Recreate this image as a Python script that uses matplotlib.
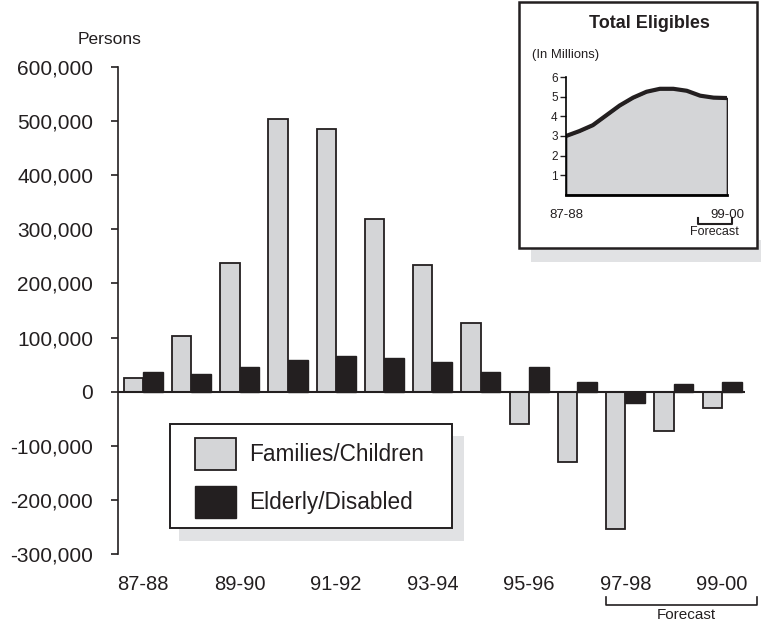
import numpy as np
import matplotlib.pyplot as plt
from matplotlib.patches import Rectangle, Patch
from matplotlib.lines import Line2D
from matplotlib.ticker import FuncFormatter

plt.rcParams['font.family'] = ['Liberation Sans', 'DejaVu Sans']

years = ['87-88', '88-89', '89-90', '90-91', '91-92', '92-93', '93-94',
         '94-95', '95-96', '96-97', '97-98', '98-99', '99-00']
families = [25000, 102000, 237000, 504000, 486000, 320000, 235000,
            127000, -59000, -130000, -253000, -73000, -31000]
elderly = [37000, 32000, 45000, 59000, 65000, 62000, 54000,
           36000, 45000, 17000, -21000, 15000, 17000]
total_eligibles = [3.0, 3.25, 3.55, 4.05, 4.55, 4.95, 5.25,
                   5.4, 5.4, 5.3, 5.05, 4.95, 4.93]
yticks = [-300000, -200000, -100000, 0, 100000, 200000, 300000, 400000, 500000, 600000]

W, H = 761, 625
GREY = '#d4d5d7'
BLACK = '#231f20'
SHADOW = '#e1e2e4'


def fx(x):
    return x / W


def fy(y):
    return 1 - y / H


fig = plt.figure(figsize=(W / 100, H / 100), dpi=100)

# main chart
ax = fig.add_axes([fx(118), fy(554), (745 - 118) / W, (554 - 67) / H])
x = np.arange(len(years))
ax.bar(x, families, width=-0.4, align='edge', color=GREY, edgecolor=BLACK, linewidth=1.3)
ax.bar(x, elderly, width=0.41, align='edge', color=BLACK, edgecolor=BLACK, linewidth=1.0)
ax.axhline(0, color=BLACK, lw=1.5)
ax.set_xlim(-0.52, 12.48)
ax.set_ylim(-300000, 600000)
ax.set_yticks(yticks)
ax.yaxis.set_major_formatter(FuncFormatter(lambda v, p: f'{v:,.0f}'))
ax.set_xticks(x[::2])
ax.set_xticklabels(years[::2])
for s in ['top', 'right', 'bottom']:
    ax.spines[s].set_visible(False)
ax.spines['left'].set_color(BLACK)
ax.spines['left'].set_linewidth(1.2)
ax.tick_params(axis='y', direction='out', length=5, width=1.2, labelsize=15,
               pad=13, colors=BLACK)
ax.tick_params(axis='x', length=0, labelsize=14.5, pad=15, colors=BLACK)

fig.text(fx(110), fy(39), 'Persons', ha='center', va='center', fontsize=12.5, color=BLACK)

# forecast bracket under x axis
fig.add_artist(Line2D([fx(606), fx(606), fx(757), fx(757)],
                      [fy(597), fy(605), fy(605), fy(597)], color=BLACK, lw=1.2))
fig.text(fx(686), fy(615), 'Forecast', ha='center', va='center', fontsize=11, color=BLACK)

# legend box with shadow
fig.add_artist(Rectangle((fx(179), fy(541)), (464 - 179) / W, (541 - 436) / H,
                         transform=fig.transFigure, facecolor=SHADOW, edgecolor='none', zorder=3))
fig.add_artist(Rectangle((fx(170), fy(528)), (452 - 170) / W, (528 - 424) / H,
                         transform=fig.transFigure, facecolor='white', edgecolor=BLACK,
                         lw=1.4, zorder=4))
handles = [Patch(facecolor=GREY, edgecolor=BLACK, lw=1.3, label='Families/Children'),
           Patch(facecolor=BLACK, edgecolor=BLACK, label='Elderly/Disabled')]
leg = fig.legend(handles=handles, loc='center left', bbox_to_anchor=(fx(195), fy(478)),
                 frameon=False, fontsize=16.3, handlelength=1.8, handleheight=1.75,
                 handletextpad=0.6, labelspacing=0.75, borderpad=0, borderaxespad=0)
leg.set_zorder(6)
for t in leg.get_texts():
    t.set_color(BLACK)

# inset box with shadow
fig.add_artist(Rectangle((fx(531), fy(262)), (761 - 531) / W, (262 - 240) / H,
                         transform=fig.transFigure, facecolor=SHADOW, edgecolor='none', zorder=2))
fig.add_artist(Rectangle((fx(519), fy(248)), (757 - 519) / W, (248 - 2) / H,
                         transform=fig.transFigure, facecolor='white', edgecolor=BLACK,
                         lw=1.8, zorder=3))

ins = fig.add_axes([fx(566), fy(195), (727 - 566) / W, (195 - 77) / H])
ins.set_zorder(5)
ins.patch.set_visible(False)
xi = np.arange(len(total_eligibles))
ins.fill_between(xi, total_eligibles, 0, facecolor=GREY, edgecolor=BLACK, lw=1.2)
ins.plot(xi, total_eligibles, color=BLACK, lw=3, solid_capstyle='butt')
ins.set_xlim(0, 12)
ins.set_ylim(0, 6)
ins.set_yticks([1, 2, 3, 4, 5, 6])
ins.set_xticks([0, 12])
ins.set_xticklabels([years[0], years[-1]])
for s in ['top', 'right']:
    ins.spines[s].set_visible(False)
ins.spines['left'].set_linewidth(1.2)
ins.spines['bottom'].set_linewidth(2)
ins.tick_params(axis='y', direction='out', length=4, width=1, labelsize=8.5, pad=2, colors=BLACK)
ins.tick_params(axis='x', length=0, labelsize=9.5, pad=10, colors=BLACK)

fig.text(fx(649), fy(23), 'Total Eligibles', ha='center', va='center',
         fontsize=13, fontweight='bold', color=BLACK, zorder=6)
fig.text(fx(532), fy(55), '(In Millions)', ha='left', va='center', fontsize=9.4,
         color=BLACK, zorder=6)
fig.add_artist(Line2D([fx(698), fx(698), fx(732), fx(732)],
                      [fy(218), fy(224), fy(224), fy(218)], color=BLACK, lw=1.5, zorder=6))
fig.text(fx(714), fy(232), 'Forecast', ha='center', va='center', fontsize=9,
         color=BLACK, zorder=6)

fig.savefig('out.png', dpi=100)
